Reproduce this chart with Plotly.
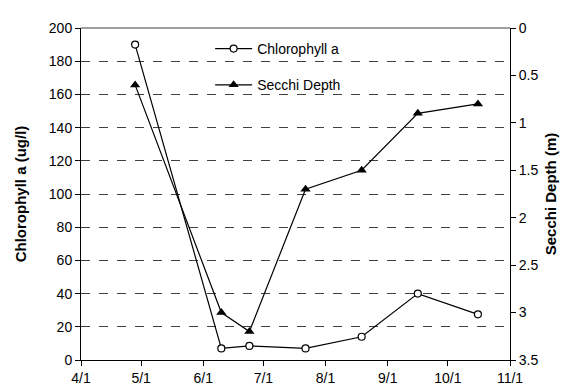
import plotly.graph_objects as go

# sample dates and values
chl_dates = ["2005-04-28", "2005-06-10", "2005-06-24", "2005-07-22",
             "2005-08-19", "2005-09-16", "2005-10-16"]
chl_vals = [190, 7, 8.5, 7, 14, 40, 27.5]

secchi_dates = ["2005-04-28", "2005-06-10", "2005-06-24", "2005-07-22",
                "2005-08-19", "2005-09-16", "2005-10-16"]
secchi_vals = [0.6, 3.0, 3.2, 1.7, 1.5, 0.9, 0.8]

month_ticks = ["2005-04-01", "2005-05-01", "2005-06-01", "2005-07-01",
               "2005-08-01", "2005-09-01", "2005-10-01", "2005-11-01"]
month_labels = ["4/1", "5/1", "6/1", "7/1", "8/1", "9/1", "10/1", "11/1"]

FONT = "Liberation Sans, Arial, sans-serif"

fig = go.Figure()
fig.add_trace(go.Scatter(
    x=chl_dates, y=chl_vals, name="Chlorophyll a", mode="lines+markers",
    line=dict(color="black", width=1.2),
    marker=dict(symbol="circle", size=7, color="white",
                line=dict(color="black", width=1.2)),
    legendgroup="a"))
fig.add_trace(go.Scatter(
    x=secchi_dates, y=secchi_vals, name="Secchi Depth", mode="lines+markers",
    yaxis="y2",
    line=dict(color="black", width=1.2),
    marker=dict(symbol="triangle-up", size=9, color="black"),
    legendgroup="b"))

# solid line along the top of the plot area
fig.add_shape(type="line", xref="paper", yref="paper", x0=0, x1=1, y0=1, y1=1,
              line=dict(color="#808080", width=1.5))
# white block behind the legend that breaks the grid lines
fig.add_shape(type="rect", xref="paper", yref="paper", layer="between",
              x0=0.289, x1=0.699, y0=0.75, y1=0.956,
              fillcolor="white", line=dict(width=0))

fig.update_layout(
    width=586, height=390,
    margin=dict(l=73, r=84, t=15, b=37),
    paper_bgcolor="white", plot_bgcolor="white",
    font=dict(family=FONT, size=14, color="black"),
    showlegend=True,
    legend=dict(x=0.301, y=0.985, xanchor="left", yanchor="top",
                bgcolor="rgba(0,0,0,0)", font=dict(size=14),
                tracegroupgap=15, itemwidth=37),
    xaxis=dict(
        type="date", range=["2005-04-01", "2005-11-01"],
        tickvals=month_ticks, ticktext=month_labels,
        showgrid=False, showline=True, linecolor="black", linewidth=1,
        ticks="outside", ticklen=5, tickcolor="black", zeroline=False),
    yaxis=dict(
        title=dict(text="<b>Chlorophyll a (ug/l)</b>", standoff=18,
                   font=dict(size=15)),
        range=[0, 200], dtick=20,
        showgrid=True, gridcolor="#404040", griddash="dash", gridwidth=1,
        showline=True, linecolor="black", linewidth=1,
        ticks="outside", ticklen=5, tickcolor="black", zeroline=False),
    yaxis2=dict(
        title=dict(text="<b>Secchi Depth (m)</b>", standoff=8,
                   font=dict(size=15)),
        overlaying="y", side="right",
        range=[3.5, 0], dtick=0.5, showgrid=False,
        showline=True, linecolor="black", linewidth=1,
        ticks="outside", ticklen=5, tickcolor="black", zeroline=False),
)

fig.write_html("out.html")
